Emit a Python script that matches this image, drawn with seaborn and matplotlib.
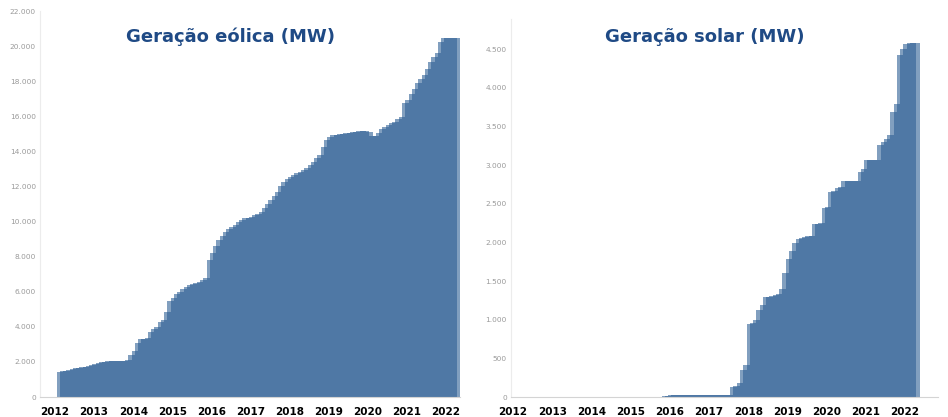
import numpy as np
import pandas as pd
import matplotlib
matplotlib.use("Agg")
import matplotlib.pyplot as plt
import seaborn as sns
from matplotlib.ticker import FuncFormatter, MultipleLocator

# capacidade instalada acumulada, um valor por mês
anos = list(range(2012, 2023))

eolica_inicio = "2012-02"
eolica_mw = [
    1440, 1460, 1500, 1550, 1600, 1630, 1660, 1690, 1730, 1760, 1800,
    1860, 1920, 1970, 2010, 2050, 2060, 2070, 2070, 2080, 2080, 2090, 2390,
    2650, 3080, 3300, 3330, 3360, 3720, 3850, 4000, 4290, 4400, 4860, 5470,
    5650, 5850, 6000, 6150, 6280, 6380, 6450, 6520, 6570, 6650, 6780, 7800,
    8200, 8600, 8950, 9200, 9420, 9550, 9700, 9800, 9950, 10090, 10180, 10230,
    10280, 10350, 10430, 10550, 10770, 11000, 11230, 11450, 11700, 12000, 12270, 12450,
    12560, 12650, 12750, 12850, 12940, 13080, 13220, 13400, 13600, 13800, 14270, 14650,
    14800, 14930, 14960, 14980, 14990, 15020, 15060, 15090, 15120, 15140, 15150, 15150,
    15120, 14880, 14900, 15050, 15250, 15410, 15500, 15600, 15690, 15850, 15980, 16750,
    16900, 17250, 17550, 17900, 18100, 18350, 18700, 19100, 19350, 19590, 20250, 20450,
    20480, 20480, 20480, 20480,
]

solar_inicio = "2015-11"
solar_mw = [
    15, 17, 20, 21, 21, 21, 22, 22, 22, 23, 23, 23, 24, 24, 24, 24, 25, 25, 25, 26, 26,
    133, 140, 177, 350, 420, 950, 960, 1000, 1120, 1190, 1290, 1300, 1310, 1320, 1330,
    1400, 1600, 1780, 1890, 1995, 2050, 2060, 2070, 2080, 2085, 2235, 2244, 2250,
    2440, 2460, 2650, 2660, 2700, 2720, 2800, 2800, 2800, 2800, 2800, 2910, 2950,
    3060, 3060, 3060, 3070, 3255, 3300, 3340, 3385, 3685, 3785, 4420, 4505, 4570,
    4580, 4580, 4580,
]

# barras largas e translúcidas: a sobreposição dá o efeito de degraus mais claros
AZUL = "#2e5f95"
TITULO = "#1f4a85"


def tabela(inicio, valores):
    d = pd.date_range(inicio, periods=len(valores), freq="MS")
    mes = (d.year - 2012) * 12 + d.month - 1 + 0.5
    return pd.DataFrame({"mes": mes, "mw": valores})


def milhar(v, _):
    return f"{int(v):,}".replace(",", ".")


sns.set_style("white")
plt.rcParams["font.family"] = ["DejaVu Sans"]

fig = plt.figure(figsize=(9.48, 4.17), dpi=100)
ax1 = fig.add_axes([40 / 948, 20 / 417, 420 / 948, 386 / 417])
ax2 = fig.add_axes([511 / 948, 20 / 417, 427 / 948, 378 / 417])

paineis = [
    (ax1, tabela(eolica_inicio, eolica_mw), (-4.6, 124.3), 22000, 2000),
    (ax2, tabela(solar_inicio, solar_mw), (-0.6, 130.1), 4890, 500),
]

for ax, df, xlim, ytop, passo in paineis:
    sns.barplot(data=df, x="mes", y="mw", native_scale=True, width=2.0,
                color=AZUL, saturation=1, alpha=0.6, linewidth=0,
                errorbar=None, ax=ax)
    ax.set_xlim(*xlim)
    ax.set_ylim(0, ytop)
    ax.set_xticks([12 * (a - 2012) for a in anos])
    ax.set_xticklabels([str(a) for a in anos], fontweight="bold", color="black")
    ax.yaxis.set_major_locator(MultipleLocator(passo))
    ax.yaxis.set_major_formatter(FuncFormatter(milhar))
    ax.tick_params(axis="x", length=0, pad=7, labelsize=7.5)
    ax.tick_params(axis="y", length=0, pad=3, labelsize=5.3, labelcolor="#9a9a9a")
    ax.set_xlabel("")
    ax.set_ylabel("")
    sns.despine(ax=ax)
    ax.spines["left"].set_color("#ececec")
    ax.spines["bottom"].set_color("#d4d4d4")
    ax.spines["left"].set_linewidth(0.8)
    ax.spines["bottom"].set_linewidth(0.8)

fig.text(230 / 948, 1 - 37 / 417, "Geração eólica (MW)", ha="center", va="center",
         fontsize=13, fontweight="bold", color=TITULO)
fig.text(705 / 948, 1 - 37 / 417, "Geração solar (MW)", ha="center", va="center",
         fontsize=13, fontweight="bold", color=TITULO)

fig.savefig("out.png", dpi=100)
